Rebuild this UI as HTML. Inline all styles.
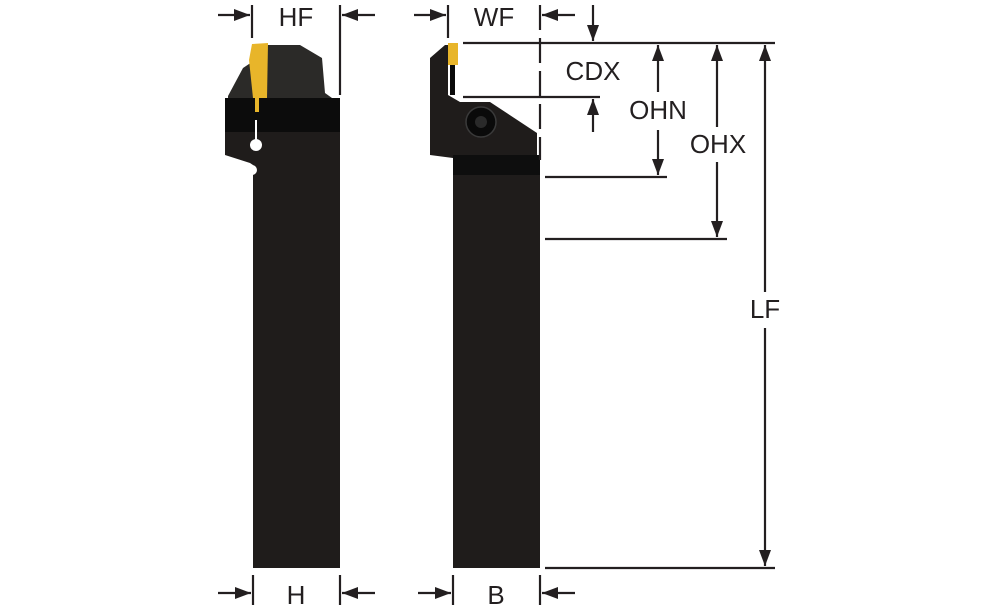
<!DOCTYPE html>
<html><head><meta charset="utf-8"><style>
html,body{margin:0;padding:0;background:#fff;}
svg{display:block;}
text{font-family:"Liberation Sans",sans-serif;font-size:26px;fill:#231f20;}
</style></head><body>
<svg width="1000" height="611" viewBox="0 0 1000 611" xmlns="http://www.w3.org/2000/svg">
<defs>
<marker id="a" viewBox="0 0 16 12" refX="16" refY="6" markerWidth="16" markerHeight="12" markerUnits="userSpaceOnUse" orient="auto"><path d="M0,0 L16,6 L0,12 z" fill="#231f20"/></marker>
</defs>
<g fill="#1f1c1b">
<!-- left tool -->
<rect x="253" y="160" width="87" height="408"/>
<path d="M225,98 L340,98 L340,165 L253,165 L250,163 L225,155 z"/>
<rect x="225" y="98" width="115" height="34" fill="#0c0c0c"/>
<path d="M228,96 L243,68 L252,62 L252,45 L300,45 L322,58 L325,93 L332,98 L228,98 z" fill="#2b2a28"/>
<path d="M252,44 L268,43 L267,98 L253,98 L249,60 z" fill="#e8b52a"/>
<rect x="255" y="98" width="4" height="14" fill="#e8b52a"/>
<rect x="255" y="120" width="2" height="20" fill="#fff"/>
<circle cx="256" cy="145" r="6" fill="#fff"/>
<circle cx="252" cy="170" r="5" fill="#fff"/>
<!-- right tool -->
<rect x="453" y="160" width="87" height="408"/>
<path d="M430,58 L445,45 L448,45 L448,95 L460,102 L490,102 L537,133 L537,160 L453,160 L453,158 L430,155 z"/>
<rect x="453" y="155" width="87" height="20" fill="#0e0e0e"/>
<rect x="448" y="43" width="10" height="22" fill="#e8b52a"/>
<rect x="450" y="65" width="5" height="30" fill="#0a0a0a"/>
<circle cx="481" cy="122" r="15" fill="#0a0a0a" stroke="#3a3a3a" stroke-width="1.5"/>
<circle cx="481" cy="122" r="6" fill="#2a2a2a"/>
</g>
<g stroke="#231f20" stroke-width="2.2" fill="none">
<line x1="252" y1="5" x2="252" y2="38"/><line x1="340" y1="5" x2="340" y2="95"/>
<line x1="218" y1="15" x2="250" y2="15" marker-end="url(#a)"/>
<line x1="375" y1="15" x2="342" y2="15" marker-end="url(#a)"/>
<line x1="448" y1="5" x2="448" y2="38"/><line x1="540" y1="5" x2="540" y2="160" stroke-dasharray="25,8"/>
<line x1="414" y1="15" x2="446" y2="15" marker-end="url(#a)"/>
<line x1="575" y1="15" x2="542" y2="15" marker-end="url(#a)"/>
<line x1="463" y1="43" x2="775" y2="43"/>
<line x1="463" y1="97" x2="600" y2="97"/>
<line x1="545" y1="177" x2="667" y2="177"/>
<line x1="545" y1="239" x2="727" y2="239"/>
<line x1="545" y1="568" x2="775" y2="568"/>
<line x1="593" y1="5" x2="593" y2="41" marker-end="url(#a)"/>
<line x1="593" y1="132" x2="593" y2="99" marker-end="url(#a)"/>
<line x1="658" y1="92" x2="658" y2="45" marker-end="url(#a)"/>
<line x1="658" y1="130" x2="658" y2="175" marker-end="url(#a)"/>
<line x1="717" y1="127" x2="717" y2="45" marker-end="url(#a)"/>
<line x1="717" y1="162" x2="717" y2="237" marker-end="url(#a)"/>
<line x1="765" y1="292" x2="765" y2="45" marker-end="url(#a)"/>
<line x1="765" y1="328" x2="765" y2="566" marker-end="url(#a)"/>
<line x1="253" y1="575" x2="253" y2="605"/><line x1="340" y1="575" x2="340" y2="605"/>
<line x1="218" y1="593" x2="251" y2="593" marker-end="url(#a)"/>
<line x1="375" y1="593" x2="342" y2="593" marker-end="url(#a)"/>
<line x1="453" y1="575" x2="453" y2="605"/><line x1="540" y1="575" x2="540" y2="605"/>
<line x1="418" y1="593" x2="451" y2="593" marker-end="url(#a)"/>
<line x1="575" y1="593" x2="542" y2="593" marker-end="url(#a)"/>
</g>
<text x="296" y="26" text-anchor="middle">HF</text>
<text x="494" y="26" text-anchor="middle">WF</text>
<text x="593" y="80" text-anchor="middle">CDX</text>
<text x="658" y="119" text-anchor="middle">OHN</text>
<text x="718" y="153" text-anchor="middle">OHX</text>
<text x="765" y="318" text-anchor="middle">LF</text>
<text x="296" y="604" text-anchor="middle">H</text>
<text x="496" y="604" text-anchor="middle">B</text>
</svg>
</body></html>
